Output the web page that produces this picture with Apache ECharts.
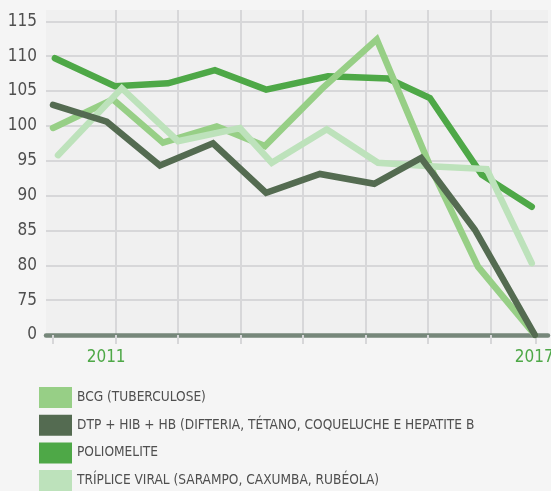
<!DOCTYPE html>
<html><head><meta charset="utf-8">
<script src="https://cdn.jsdelivr.net/npm/echarts@6/dist/echarts.min.js"></script>
<style>html,body{margin:0;padding:0;background:#f5f5f5}#c{width:551px;height:491px}</style>
</head><body><div id="c"></div>
<script>
// x positions are in grid-column units (0 = first gridline)
const seriesNames = ['BCG (TUBERCULOSE)', 'DTP + HIB + HB (DIFTERIA, TÉTANO, COQUELUCHE E HEPATITE B', 'POLIOMELITE', 'TRÍPLICE VIRAL (SARAMPO, CAXUMBA, RUBÉOLA)'];
const bcgX = [0.00, 0.96, 1.76, 2.62, 3.39, 4.30, 5.18, 6.03, 6.80, 7.71];
const bcgY = [99.7, 103.8, 97.6, 99.9, 97.1, 105.3, 112.4, 94.3, 79.8, 0];
const dtpX = [0.00, 0.86, 1.71, 2.56, 3.41, 4.27, 5.14, 5.89, 6.75, 7.71];
const dtpY = [103.0, 100.6, 94.3, 97.5, 90.4, 93.1, 91.7, 95.4, 85.1, 0];
const polioX = [0.03, 0.99, 1.84, 2.59, 3.41, 4.40, 5.36, 6.03, 6.86, 7.66];
const polioY = [109.7, 105.7, 106.1, 108.0, 105.2, 107.1, 106.8, 104.0, 93.0, 88.4];
const tripX = [0.08, 1.10, 2.00, 2.99, 3.50, 4.38, 5.20, 6.03, 6.94, 7.66];
const tripY = [95.8, 105.4, 97.8, 99.7, 94.7, 99.5, 94.7, 94.2, 93.8, 80.3];
const colors = ['#97cf86', '#546b51', '#4ea847', '#bde2bb'];
const yTicks = [70, 75, 80, 85, 90, 95, 100, 105, 110, 115];
const yTickLabels = ['0', '75', '80', '85', '90', '95', '100', '105', '110', '115'];
const xGridValues = [0, 1, 2, 3, 4, 5, 6, 7, 7.728];
const yearLabelPos = [0.85, 7.70];
const yearLabels = ['2011', '2017'];
const BREAK = 70; // zero is drawn at the axis break

function pairs(xs, ys) { return xs.map((x, i) => [x, ys[i] === 0 ? BREAK : ys[i]]); }
const allX = [bcgX, dtpX, polioX, tripX];
const allY = [bcgY, dtpY, polioY, tripY];
const zs = [2, 4, 1, 3];
const font = '"DejaVu Sans Condensed", "Roboto Condensed", "Liberation Sans Narrow", "DejaVu Sans", sans-serif';

const chart = echarts.init(document.getElementById('c'));
chart.setOption({
  backgroundColor: '#f5f5f5',
  animation: false,
  grid: { left: 46, right: 3, top: 10, bottom: 156, show: true, backgroundColor: '#f0f0f0', borderWidth: 0,
          containLabel: false, outerBoundsMode: 'none' },
  xAxis: {
    type: 'value', min: -0.112, max: 7.92,
    axisLine: { show: true, lineStyle: { color: '#76877a', width: 4.5 } },
    axisTick: { show: true, customValues: xGridValues, length: 9, lineStyle: { color: '#d7d7d9', width: 2 } },
    splitLine: { show: true, showMinLine: false, showMaxLine: false, lineStyle: { color: '#d7d7d9', width: 2 } },
    axisLabel: {
      customValues: yearLabelPos, margin: 14, color: '#4ea847', fontFamily: font, fontSize: 17,
      formatter: v => { const i = yearLabelPos.findIndex(p => Math.abs(p - v) < 1e-6); return i >= 0 ? yearLabels[i] : ''; }
    }
  },
  yAxis: {
    type: 'value', min: 70, max: 116.62, interval: 5,
    axisLine: { show: false }, axisTick: { show: false },
    splitLine: { show: true, showMinLine: false, showMaxLine: false, lineStyle: { color: '#d7d7d9', width: 2 } },
    axisLabel: {
      margin: 9, color: '#4f4f4f', fontFamily: font, fontSize: 17, showMaxLabel: false,
      formatter: v => { const i = yTicks.indexOf(Math.round(v)); return (i >= 0 && Math.abs(v - yTicks[i]) < 1e-6) ? yTickLabels[i] : ''; }
    }
  },
  legend: {
    orient: 'vertical', left: 39, top: 387, padding: 0, itemWidth: 33, itemHeight: 21, itemGap: 6.7, icon: 'rect',
    height: 110,
    textStyle: { color: '#4f4f4f', fontFamily: font, fontSize: 13.6, lineHeight: 21 },
    data: seriesNames
  },
  series: seriesNames.map((n, i) => ({
    name: n, type: 'line', data: pairs(allX[i], allY[i]), z: zs[i],
    symbol: 'none', showSymbol: false, color: colors[i],
    itemStyle: { color: colors[i] },
    lineStyle: { color: colors[i], width: 6.5, cap: 'round', join: 'miter' }
  }))
});
</script></body></html>
